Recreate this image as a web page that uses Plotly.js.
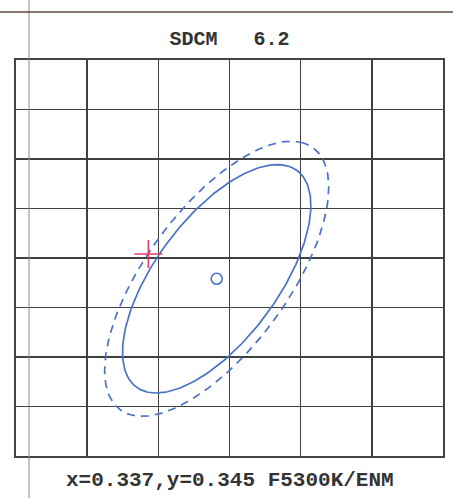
<!DOCTYPE html>
<html>
<head>
<meta charset="utf-8">
<script src="https://cdn.plot.ly/plotly-3.0.1.min.js"></script>
<style>
html,body{margin:0;padding:0;background:#fff;}
#chart{width:453px;height:498px;}
</style>
</head>
<body>
<div id="chart"></div>
<script>
// ---- data ----
const sdcmValue = 6.2;
const measuredX = [0.337];
const measuredY = [0.345];
const targetName = "F5300K/ENM";
const centerX = [0.3418];
const centerY = [0.3425];
const ellipseNames = ["inner", "outer"];
const ellipseA = [0.01244, 0.01501];
const ellipseB = [0.00470, 0.00544];
const ellipseAngleDeg = [66.15, 66.0];
const ellipseDash = ["solid", "8px,6px"];
const xRange = [0.3277, 0.3577];
const yRange = [0.3246, 0.3646];
const gridStep = 0.005;

// ---- build traces ----
const blue = "#4a72c6";
const traces = [];
const N = 240;
for (let k = 0; k < ellipseNames.length; k++) {
  const th = ellipseAngleDeg[k] * Math.PI / 180;
  const xs = [], ys = [];
  for (let i = 0; i <= N; i++) {
    const t = 2 * Math.PI * i / N;
    const u = ellipseA[k] * Math.cos(t), v = ellipseB[k] * Math.sin(t);
    xs.push(centerX[0] + u * Math.cos(th) - v * Math.sin(th));
    ys.push(centerY[0] + u * Math.sin(th) + v * Math.cos(th));
  }
  traces.push({
    x: xs, y: ys, type: "scatter", mode: "lines", name: ellipseNames[k],
    line: {color: blue, width: 1.7, dash: ellipseDash[k]},
    hoverinfo: "skip"
  });
}
traces.push({
  x: centerX, y: centerY, type: "scatter", mode: "markers", name: "center",
  marker: {symbol: "circle-open", size: 11, color: blue, line: {width: 1.6, color: blue}}
});
traces.push({
  x: measuredX, y: measuredY, type: "scatter", mode: "markers", name: "measured",
  marker: {symbol: "cross-thin-open", size: 20, color: "#e23d6d", line: {width: 1.6, color: "#e23d6d"}}
});

const axisCommon = {
  showticklabels: false, ticks: "", zeroline: false,
  showgrid: true, gridcolor: "#404040", gridwidth: 1.6,
  showline: true, linecolor: "#444", linewidth: 1.6, mirror: true,
  dtick: gridStep, fixedrange: true
};

const layout = {
  width: 453, height: 498,
  margin: {l: 16, r: 10, t: 60, b: 42},
  paper_bgcolor: "#ffffff", plot_bgcolor: "#ffffff",
  showlegend: false,
  title: {
    text: "<b>SDCM   " + sdcmValue.toFixed(1) + "</b>",
    font: {family: "Courier New, Liberation Mono, monospace", size: 20, color: "#333"},
    x: 0.5, xref: "paper", xanchor: "center",
    y: 1 - 37.5 / 498, yref: "container", yanchor: "middle"
  },
  xaxis: Object.assign({}, axisCommon, {range: xRange, tick0: xRange[0]}),
  yaxis: Object.assign({}, axisCommon, {range: yRange, tick0: yRange[0]}),
  annotations: [{
    text: "<b>x=" + measuredX[0].toFixed(3) + ",y=" + measuredY[0].toFixed(3) + " " + targetName + "</b>",
    xref: "paper", yref: "paper", x: 0.5, y: -24 / 396,
    xanchor: "center", yanchor: "middle", showarrow: false,
    font: {family: "Courier New, Liberation Mono, monospace", size: 21, color: "#333"}
  }],
  shapes: [
    {type: "line", xref: "paper", yref: "paper", x0: 13 / 427, x1: 13 / 427, y0: -42 / 396, y1: 456 / 396,
     line: {color: "#8a8a8a", width: 1}},
    {type: "line", xref: "paper", yref: "paper", x0: -16 / 427, x1: 437 / 427, y0: 444 / 396, y1: 444 / 396,
     line: {color: "#5a4a40", width: 1.5}}
  ]
};

Plotly.newPlot("chart", traces, layout, {staticPlot: true, displayModeBar: false});
</script>
</body>
</html>
